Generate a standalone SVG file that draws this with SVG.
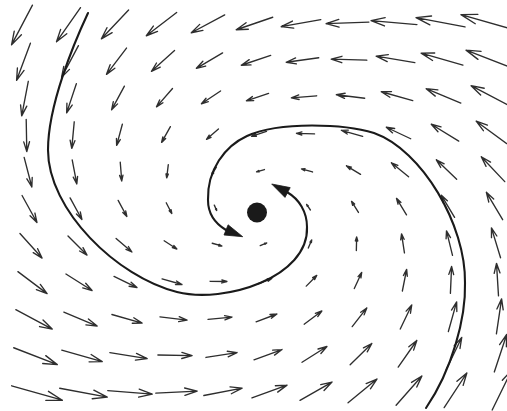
<svg xmlns="http://www.w3.org/2000/svg" xmlns:xlink="http://www.w3.org/1999/xlink" width="507" height="411" viewBox="0 0 507 411">
<style>
.vec{fill:none;stroke:#2e2e2e;stroke-width:1.35;stroke-linecap:round;stroke-linejoin:round}
.traj{fill:none;stroke:#1a1a1a;stroke-width:2.1;stroke-linecap:round}
.head{fill:#1a1a1a;stroke:#1a1a1a;stroke-width:0.8;stroke-linejoin:round}
</style>
<defs>
<path id="ar" class="vec" vector-effect="non-scaling-stroke" d="M-0.5,0 H0.5 M0.2,-0.09 L0.5,0 L0.2,0.09"/>
</defs>
<rect width="507" height="411" fill="#ffffff"/>
<g id="field">
<use xlink:href="#ar" transform="matrix(-20.9 39.7 -39.7 -20.9 22 25)"/>
<use xlink:href="#ar" transform="matrix(-24.0 34.2 -34.2 -24.0 68.5 24.7)"/>
<use xlink:href="#ar" transform="matrix(-27.2 28.8 -28.8 -27.2 115 24.4)"/>
<use xlink:href="#ar" transform="matrix(-30.3 23.3 -23.3 -30.3 161.5 24.1)"/>
<use xlink:href="#ar" transform="matrix(-33.4 17.9 -17.9 -33.4 208 23.8)"/>
<use xlink:href="#ar" transform="matrix(-36.5 12.5 -12.5 -36.5 254.5 23.5)"/>
<use xlink:href="#ar" transform="matrix(-39.6 7.0 -7.0 -39.6 301 23.2)"/>
<use xlink:href="#ar" transform="matrix(-42.8 1.6 -1.6 -42.8 347.5 22.9)"/>
<use xlink:href="#ar" transform="matrix(-45.9 -3.9 3.9 -45.9 394 22.6)"/>
<use xlink:href="#ar" transform="matrix(-49.0 -9.3 9.3 -49.0 440.5 22.3)"/>
<use xlink:href="#ar" transform="matrix(-52.1 -14.8 14.8 -52.1 487 22)"/>

<use xlink:href="#ar" transform="matrix(-13.8 37.1 -37.1 -13.8 23.5 61.8)"/>
<use xlink:href="#ar" transform="matrix(-16.9 31.7 -31.7 -16.9 70 61.5)"/>
<use xlink:href="#ar" transform="matrix(-20.0 26.3 -26.3 -20.0 116.5 61.2)"/>
<use xlink:href="#ar" transform="matrix(-23.1 20.8 -20.8 -23.1 163 60.9)"/>
<use xlink:href="#ar" transform="matrix(-26.2 15.4 -15.4 -26.2 209.5 60.6)"/>
<use xlink:href="#ar" transform="matrix(-29.4 9.9 -9.9 -29.4 256 60.3)"/>
<use xlink:href="#ar" transform="matrix(-32.5 4.5 -4.5 -32.5 302.5 60)"/>
<use xlink:href="#ar" transform="matrix(-35.6 -1.0 1.0 -35.6 349 59.7)"/>
<use xlink:href="#ar" transform="matrix(-38.7 -6.4 6.4 -38.7 395.5 59.4)"/>
<use xlink:href="#ar" transform="matrix(-41.8 -11.9 11.9 -41.8 442 59.1)"/>
<use xlink:href="#ar" transform="matrix(-44.9 -17.3 17.3 -44.9 488.5 58.8)"/>

<use xlink:href="#ar" transform="matrix(-6.6 34.6 -34.6 -6.6 25 98.6)"/>
<use xlink:href="#ar" transform="matrix(-9.7 29.2 -29.2 -9.7 71.5 98.3)"/>
<use xlink:href="#ar" transform="matrix(-12.8 23.7 -23.7 -12.8 118 98)"/>
<use xlink:href="#ar" transform="matrix(-16.0 18.3 -18.3 -16.0 164.5 97.7)"/>
<use xlink:href="#ar" transform="matrix(-19.1 12.8 -12.8 -19.1 211 97.4)"/>
<use xlink:href="#ar" transform="matrix(-22.2 7.4 -7.4 -22.2 257.5 97.1)"/>
<use xlink:href="#ar" transform="matrix(-25.3 2.0 -2.0 -25.3 304 96.8)"/>
<use xlink:href="#ar" transform="matrix(-28.4 -3.5 3.5 -28.4 350.5 96.5)"/>
<use xlink:href="#ar" transform="matrix(-31.5 -8.9 8.9 -31.5 397 96.2)"/>
<use xlink:href="#ar" transform="matrix(-34.7 -14.4 14.4 -34.7 443.5 95.9)"/>
<use xlink:href="#ar" transform="matrix(-37.8 -19.8 19.8 -37.8 490 95.6)"/>

<use xlink:href="#ar" transform="matrix(0.6 32.1 -32.1 0.6 26.5 135.4)"/>
<use xlink:href="#ar" transform="matrix(-2.5 26.6 -26.6 -2.5 73 135.1)"/>
<use xlink:href="#ar" transform="matrix(-5.7 21.2 -21.2 -5.7 119.5 134.8)"/>
<use xlink:href="#ar" transform="matrix(-8.8 15.8 -15.8 -8.8 166 134.5)"/>
<use xlink:href="#ar" transform="matrix(-11.9 10.3 -10.3 -11.9 212.5 134.2)"/>
<use xlink:href="#ar" transform="matrix(-15.0 4.9 -4.9 -15.0 259 133.9)"/>
<use xlink:href="#ar" transform="matrix(-18.1 -0.6 0.6 -18.1 305.5 133.6)"/>
<use xlink:href="#ar" transform="matrix(-21.3 -6.0 6.0 -21.3 352 133.3)"/>
<use xlink:href="#ar" transform="matrix(-24.4 -11.5 11.5 -24.4 398.5 133)"/>
<use xlink:href="#ar" transform="matrix(-27.5 -16.9 16.9 -27.5 445 132.7)"/>
<use xlink:href="#ar" transform="matrix(-30.6 -22.4 22.4 -30.6 491.5 132.4)"/>

<use xlink:href="#ar" transform="matrix(7.7 29.6 -29.6 7.7 28 172.2)"/>
<use xlink:href="#ar" transform="matrix(4.6 24.1 -24.1 4.6 74.5 171.9)"/>
<use xlink:href="#ar" transform="matrix(1.5 18.7 -18.7 1.5 121 171.6)"/>
<use xlink:href="#ar" transform="matrix(-1.6 13.2 -13.2 -1.6 167.5 171.3)"/>
<use xlink:href="#ar" transform="matrix(-4.7 7.8 -7.8 -4.7 214 171)"/>
<use xlink:href="#ar" transform="matrix(-7.9 2.3 -2.3 -7.9 260.5 170.7)"/>
<use xlink:href="#ar" transform="matrix(-11.0 -3.1 3.1 -11.0 307 170.4)"/>
<use xlink:href="#ar" transform="matrix(-14.1 -8.6 8.6 -14.1 353.5 170.1)"/>
<use xlink:href="#ar" transform="matrix(-17.2 -14.0 14.0 -17.2 400 169.8)"/>
<use xlink:href="#ar" transform="matrix(-20.3 -19.4 19.4 -20.3 446.5 169.5)"/>
<use xlink:href="#ar" transform="matrix(-23.5 -24.9 24.9 -23.5 493 169.2)"/>

<use xlink:href="#ar" transform="matrix(14.9 27.0 -27.0 14.9 29.5 209)"/>
<use xlink:href="#ar" transform="matrix(11.8 21.6 -21.6 11.8 76 208.7)"/>
<use xlink:href="#ar" transform="matrix(8.7 16.1 -16.1 8.7 122.5 208.4)"/>
<use xlink:href="#ar" transform="matrix(5.6 10.7 -10.7 5.6 169 208.1)"/>
<use xlink:href="#ar" transform="matrix(2.4 5.3 -5.3 2.4 215.5 207.8)"/>
<use xlink:href="#ar" transform="matrix(-3.8 -5.6 5.6 -3.8 308.5 207.2)"/>
<use xlink:href="#ar" transform="matrix(-6.9 -11.1 11.1 -6.9 355 206.9)"/>
<use xlink:href="#ar" transform="matrix(-10.0 -16.5 16.5 -10.0 401.5 206.6)"/>
<use xlink:href="#ar" transform="matrix(-13.2 -22.0 22.0 -13.2 448 206.3)"/>
<use xlink:href="#ar" transform="matrix(-16.3 -27.4 27.4 -16.3 494.5 206)"/>

<use xlink:href="#ar" transform="matrix(22.1 24.5 -24.5 22.1 31 245.8)"/>
<use xlink:href="#ar" transform="matrix(19.0 19.1 -19.1 19.0 77.5 245.5)"/>
<use xlink:href="#ar" transform="matrix(15.8 13.6 -13.6 15.8 124 245.2)"/>
<use xlink:href="#ar" transform="matrix(12.7 8.2 -8.2 12.7 170.5 244.9)"/>
<use xlink:href="#ar" transform="matrix(9.6 2.7 -2.7 9.6 217 244.6)"/>
<use xlink:href="#ar" transform="matrix(6.5 -2.7 2.7 6.5 263.5 244.3)"/>
<use xlink:href="#ar" transform="matrix(3.4 -8.2 8.2 3.4 310 244)"/>
<use xlink:href="#ar" transform="matrix(0.3 -13.6 13.6 0.3 356.5 243.7)"/>
<use xlink:href="#ar" transform="matrix(-2.9 -19.1 19.1 -2.9 403 243.4)"/>
<use xlink:href="#ar" transform="matrix(-6.0 -24.5 24.5 -6.0 449.5 243.1)"/>
<use xlink:href="#ar" transform="matrix(-9.1 -29.9 29.9 -9.1 496 242.8)"/>

<use xlink:href="#ar" transform="matrix(29.2 22.0 -22.0 29.2 32.5 282.6)"/>
<use xlink:href="#ar" transform="matrix(26.1 16.5 -16.5 26.1 79 282.3)"/>
<use xlink:href="#ar" transform="matrix(23.0 11.1 -11.1 23.0 125.5 282)"/>
<use xlink:href="#ar" transform="matrix(19.9 5.6 -5.6 19.9 172 281.7)"/>
<use xlink:href="#ar" transform="matrix(16.8 0.2 -0.2 16.8 218.5 281.4)"/>
<use xlink:href="#ar" transform="matrix(13.6 -5.3 5.3 13.6 265 281.1)"/>
<use xlink:href="#ar" transform="matrix(10.5 -10.7 10.7 10.5 311.5 280.8)"/>
<use xlink:href="#ar" transform="matrix(7.4 -16.1 16.1 7.4 358 280.5)"/>
<use xlink:href="#ar" transform="matrix(4.3 -21.6 21.6 4.3 404.5 280.2)"/>
<use xlink:href="#ar" transform="matrix(1.2 -27.0 27.0 1.2 451 279.9)"/>
<use xlink:href="#ar" transform="matrix(-2.0 -32.5 32.5 -2.0 497.5 279.6)"/>

<use xlink:href="#ar" transform="matrix(36.4 19.4 -19.4 36.4 34 319.4)"/>
<use xlink:href="#ar" transform="matrix(33.3 14.0 -14.0 33.3 80.5 319.1)"/>
<use xlink:href="#ar" transform="matrix(30.2 8.6 -8.6 30.2 127 318.8)"/>
<use xlink:href="#ar" transform="matrix(27.1 3.1 -3.1 27.1 173.5 318.5)"/>
<use xlink:href="#ar" transform="matrix(23.9 -2.3 2.3 23.9 220 318.2)"/>
<use xlink:href="#ar" transform="matrix(20.8 -7.8 7.8 20.8 266.5 317.9)"/>
<use xlink:href="#ar" transform="matrix(17.7 -13.2 13.2 17.7 313 317.6)"/>
<use xlink:href="#ar" transform="matrix(14.6 -18.7 18.7 14.6 359.5 317.3)"/>
<use xlink:href="#ar" transform="matrix(11.5 -24.1 24.1 11.5 406 317)"/>
<use xlink:href="#ar" transform="matrix(8.3 -29.6 29.6 8.3 452.5 316.7)"/>
<use xlink:href="#ar" transform="matrix(5.2 -35.0 35.0 5.2 499 316.4)"/>

<use xlink:href="#ar" transform="matrix(43.6 16.9 -16.9 43.6 35.5 356.2)"/>
<use xlink:href="#ar" transform="matrix(40.5 11.5 -11.5 40.5 82 355.9)"/>
<use xlink:href="#ar" transform="matrix(37.3 6.0 -6.0 37.3 128.5 355.6)"/>
<use xlink:href="#ar" transform="matrix(34.2 0.6 -0.6 34.2 175 355.3)"/>
<use xlink:href="#ar" transform="matrix(31.1 -4.9 4.9 31.1 221.5 355)"/>
<use xlink:href="#ar" transform="matrix(28.0 -10.3 10.3 28.0 268 354.7)"/>
<use xlink:href="#ar" transform="matrix(24.9 -15.8 15.8 24.9 314.5 354.4)"/>
<use xlink:href="#ar" transform="matrix(21.7 -21.2 21.2 21.7 361 354.1)"/>
<use xlink:href="#ar" transform="matrix(18.6 -26.6 26.6 18.6 407.5 353.8)"/>
<use xlink:href="#ar" transform="matrix(15.5 -32.1 32.1 15.5 454 353.5)"/>
<use xlink:href="#ar" transform="matrix(12.4 -37.5 37.5 12.4 500.5 353.2)"/>

<use xlink:href="#ar" transform="matrix(50.7 14.4 -14.4 50.7 37 393)"/>
<use xlink:href="#ar" transform="matrix(47.6 8.9 -8.9 47.6 83.5 392.7)"/>
<use xlink:href="#ar" transform="matrix(44.5 3.5 -3.5 44.5 130 392.4)"/>
<use xlink:href="#ar" transform="matrix(41.4 -2.0 2.0 41.4 176.5 392.1)"/>
<use xlink:href="#ar" transform="matrix(38.3 -7.4 7.4 38.3 223 391.8)"/>
<use xlink:href="#ar" transform="matrix(35.1 -12.8 12.8 35.1 269.5 391.5)"/>
<use xlink:href="#ar" transform="matrix(32.0 -18.3 18.3 32.0 316 391.2)"/>
<use xlink:href="#ar" transform="matrix(28.9 -23.7 23.7 28.9 362.5 390.9)"/>
<use xlink:href="#ar" transform="matrix(25.8 -29.2 29.2 25.8 409 390.6)"/>
<use xlink:href="#ar" transform="matrix(22.7 -34.6 34.6 22.7 455.5 390.3)"/>
<use xlink:href="#ar" transform="matrix(19.6 -40.1 40.1 19.6 502 390)"/>
</g>
<g id="trajectories">
<g id="trajectory-outer">
<path class="traj" d="M88,13 C74,43 48,105 48,150 C48,210 117,277 177,292 C225,304 309,277 307,227 C307,212 299,199 287.6,192.5"/>
<polygon class="head" points="271.7,184 290.2,187.6 285,197.4"/>
</g>
<g id="trajectory-inner">
<path class="traj" d="M426,408 C452,370 466,318 465,283 C466,225 422,150 374,133 C345,124 280,121 247,136 C225,146 207,170 208,200 C208,214 216,224 226,230"/>
<polygon class="head" points="242.7,236.7 224,235 228.1,224.8"/>
</g>
</g>
<g id="fixed-point">
<circle cx="257" cy="212.5" r="10" fill="#1a1a1a"/>
</g>
</svg>
